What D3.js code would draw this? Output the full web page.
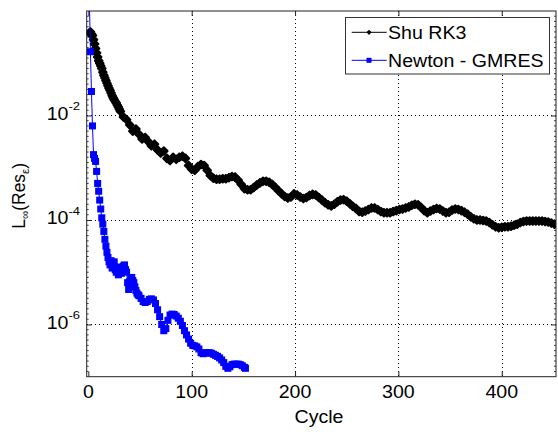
<!DOCTYPE html>
<html>
<head>
<meta charset="utf-8">
<script src="https://cdn.jsdelivr.net/npm/d3@7"></script>
<style>
  body { margin: 0; background: #fff; }
  svg { display: block; }
  text { font-family: "Liberation Sans", Arial, sans-serif; fill: #000; }
</style>
</head>
<body>
<div id="graphe"></div>
<script>
// données (résidu L-infini par cycle)
// Shu RK3 : chaque cycle de 1 à 30, puis un point tous les 3 cycles jusqu'à 451
const shuRK3 = [
  0.380, 0.398, 0.363, 0.339, 0.282, 0.234, 0.191, 0.158, 0.132, 0.112,
  0.100, 0.0891, 0.0794, 0.0676, 0.0589, 0.0525, 0.0468, 0.0417, 0.0372, 0.0331,
  0.0302, 0.0269, 0.0240, 0.0219, 0.0200, 0.0186, 0.0174, 0.0158, 0.0145, 0.0132,
  0.0120, 9.33e-3, 8.32e-3, 6.61e-3, 5.01e-3, 5.50e-3, 4.37e-3, 3.55e-3, 3.80e-3, 3.16e-3,
  2.63e-3, 2.82e-3, 2.19e-3, 1.91e-3, 2.09e-3, 1.51e-3, 1.38e-3, 1.58e-3, 1.45e-3, 1.58e-3,
  1.66e-3, 1.51e-3, 1.10e-3, 9.33e-4, 8.91e-4, 1.05e-3, 1.15e-3, 1.10e-3, 8.91e-4, 7.08e-4,
  6.31e-4, 6.03e-4, 6.03e-4, 6.17e-4, 6.17e-4, 6.46e-4, 6.76e-4, 6.61e-4, 5.75e-4, 4.79e-4,
  3.98e-4, 3.80e-4, 3.80e-4, 4.17e-4, 4.68e-4, 5.13e-4, 5.50e-4, 5.50e-4, 5.25e-4, 4.79e-4,
  4.17e-4, 3.63e-4, 3.16e-4, 2.82e-4, 2.63e-4, 2.75e-4, 3.16e-4, 3.02e-4, 2.75e-4, 2.57e-4,
  2.69e-4, 2.95e-4, 3.09e-4, 3.02e-4, 2.69e-4, 2.40e-4, 2.14e-4, 1.95e-4, 1.86e-4, 2.00e-4,
  2.24e-4, 2.40e-4, 2.45e-4, 2.29e-4, 2.04e-4, 1.82e-4, 1.66e-4, 1.45e-4, 1.41e-4, 1.48e-4,
  1.58e-4, 1.70e-4, 1.70e-4, 1.58e-4, 1.45e-4, 1.38e-4, 1.38e-4, 1.38e-4, 1.45e-4, 1.51e-4,
  1.58e-4, 1.62e-4, 1.70e-4, 1.78e-4, 1.91e-4, 2.00e-4, 1.95e-4, 1.74e-4, 1.51e-4, 1.38e-4,
  1.48e-4, 1.58e-4, 1.66e-4, 1.62e-4, 1.48e-4, 1.38e-4, 1.41e-4, 1.55e-4, 1.62e-4, 1.58e-4,
  1.51e-4, 1.41e-4, 1.29e-4, 1.15e-4, 1.05e-4, 1.00e-4, 1.00e-4, 9.77e-5, 9.55e-5, 8.91e-5,
  8.13e-5, 7.41e-5, 7.08e-5, 7.24e-5, 7.41e-5, 7.41e-5, 7.59e-5, 7.94e-5, 8.32e-5, 8.91e-5,
  9.33e-5, 9.55e-5, 9.55e-5, 9.55e-5, 9.55e-5, 9.55e-5, 9.55e-5, 9.33e-5, 9.12e-5, 8.71e-5,
  8.32e-5
];
const shuCycles = d3.range(1, 31).concat(d3.range(31, 452, 3));

// Newton - GMRES : chaque cycle jusqu'à 49, puis tous les 2 cycles jusqu'à 152
const newtonGmres = [
  1.6, 0.166, 0.0288, 6.31e-3, 1.78e-3, 1.51e-3, 1.32e-3, 8.51e-4, 5.01e-4, 3.55e-4,
  2.40e-4, 1.62e-4, 1.10e-4, 8.32e-5, 6.03e-5, 4.27e-5, 3.16e-5, 2.40e-5, 1.91e-5, 1.58e-5,
  1.38e-5, 1.66e-5, 1.20e-5, 1.51e-5, 1.58e-5, 1.12e-5, 1.00e-5, 1.26e-5, 8.91e-6, 1.05e-5,
  1.10e-5, 9.55e-6, 1.20e-5, 1.32e-5, 1.38e-5, 1.12e-5, 1.00e-5, 6.31e-6, 4.68e-6, 6.61e-6,
  7.59e-6, 7.94e-6, 6.92e-6, 6.31e-6, 5.25e-6, 4.47e-6, 3.98e-6, 3.72e-6, 3.55e-6,
  3.16e-6, 2.75e-6, 2.63e-6, 2.75e-6, 3.02e-6, 3.09e-6, 2.95e-6, 2.51e-6, 1.91e-6, 1.41e-6,
  1.00e-6, 7.59e-7, 8.32e-7, 1.20e-6, 1.51e-6, 1.58e-6, 1.55e-6, 1.45e-6, 1.32e-6, 1.15e-6,
  9.55e-7, 7.59e-7, 6.31e-7, 5.25e-7, 4.37e-7, 3.98e-7, 3.89e-7, 3.72e-7, 3.39e-7, 2.88e-7,
  2.75e-7, 2.82e-7, 2.88e-7, 2.88e-7, 2.82e-7, 2.69e-7, 2.57e-7, 2.45e-7, 2.29e-7, 2.09e-7,
  1.86e-7, 1.58e-7, 1.45e-7, 1.55e-7, 1.70e-7, 1.74e-7, 1.74e-7, 1.74e-7, 1.70e-7, 1.62e-7,
  1.51e-7, 1.45e-7
];
const newtonCycles = d3.range(1, 50).concat(d3.range(51, 152, 2), [152]);

const xTicks = [0, 100, 200, 300, 400];
const yTicks = [1e-6, 1e-4, 1e-2];
const yTickExp = ["-6", "-4", "-2"];
const seriesNames = ["Shu RK3", "Newton - GMRES"];

const largeur = 558, hauteur = 432;
const gauche = 86.7, droite = 556, haut = 11, bas = 376.7;
const etirement = 1.12; // les textes de l'image sont un peu étirés en largeur

let svg = d3.select('#graphe').append('svg')
  .attr('width', largeur)
  .attr('height', hauteur);

svg.append('rect').attr('width', largeur).attr('height', hauteur).attr('fill', '#fff');

let x = d3.scaleLinear().domain([-1.6, 452.5]).range([gauche, droite]);
let y = d3.scaleLog().domain([1e-7, 1]).range([bas, haut]);

function texte(g, px, py, ancre, taille) {
  return g.append('text')
    .attr('transform', `translate(${px},${py}) scale(${etirement},1)`)
    .attr('text-anchor', ancre)
    .attr('font-size', taille);
}

// grille pointillée
let grille = svg.append('g').attr('stroke', '#000').attr('stroke-width', 1)
  .attr('stroke-dasharray', '1,3').attr('shape-rendering', 'crispEdges');
grille.selectAll('line.gx').data(xTicks.slice(1)).enter().append('line')
  .attr('x1', d => Math.round(x(d)) + 0.5).attr('x2', d => Math.round(x(d)) + 0.5)
  .attr('y1', haut).attr('y2', bas);
grille.selectAll('line.gy').data(yTicks).enter().append('line')
  .attr('x1', gauche).attr('x2', droite)
  .attr('y1', d => Math.round(y(d)) + 0.5).attr('y2', d => Math.round(y(d)) + 0.5);

// axes (graduations vers l'intérieur)
let axeBas = d3.axisBottom(x).tickValues(xTicks).tickSizeInner(-5).tickSizeOuter(0).tickFormat('');
let axeHaut = d3.axisTop(x).tickValues(xTicks).tickSizeInner(-5).tickSizeOuter(0).tickFormat('');
let axeGauche = d3.axisLeft(y).tickValues(yTicks).tickSizeInner(-5).tickSizeOuter(0).tickFormat('');
let axeDroite = d3.axisRight(y).tickValues(yTicks).tickSizeInner(-5).tickSizeOuter(0).tickFormat('');

svg.append('g').attr('transform', `translate(0,${bas})`).call(axeBas);
svg.append('g').attr('transform', `translate(0,${haut})`).call(axeHaut);
svg.append('g').attr('transform', `translate(${gauche},0)`).call(axeGauche);
svg.append('g').attr('transform', `translate(${droite},0)`).call(axeDroite);
svg.selectAll('.domain').remove();
svg.selectAll('.tick line').attr('stroke', '#222');

// petites graduations log (tous les 0.1 décade)
let mineures = d3.range(-69, 0).filter(k => k % 20 !== 0).map(k => Math.pow(10, k / 10));
svg.append('g').selectAll('line').data(mineures).enter().append('line')
  .attr('x1', gauche).attr('x2', gauche + 2)
  .attr('y1', d => y(d)).attr('y2', d => y(d))
  .attr('stroke', '#444').attr('stroke-width', 1);
svg.append('g').selectAll('line').data(mineures).enter().append('line')
  .attr('x1', droite - 2).attr('x2', droite)
  .attr('y1', d => y(d)).attr('y2', d => y(d))
  .attr('stroke', '#444').attr('stroke-width', 1);

// étiquettes
xTicks.forEach(t => {
  texte(svg, x(t), 398.3, 'middle', 17.5).text(t);
});
yTicks.forEach((t, i) => {
  let tx = texte(svg, 80, y(t) + 4.3, 'end', 17.5);
  tx.append('tspan').text('10');
  tx.append('tspan').attr('font-size', 11.6).attr('dy', -9.3).text(yTickExp[i]);
});
texte(svg, 319, 423.3, 'middle', 17.5).text('Cycle');

let titreY = svg.append('text')
  .attr('transform', `translate(25,${(haut + bas) / 2 + 2}) rotate(-90)`)
  .attr('text-anchor', 'middle')
  .attr('font-size', 17.5);
titreY.append('tspan').text('L');
titreY.append('tspan').attr('font-size', 11.5).attr('dy', 4).text('∞');
titreY.append('tspan').attr('dy', -4).text('(Res');
titreY.append('tspan').attr('font-size', 11.5).attr('dy', 4).text('ε');
titreY.append('tspan').attr('dy', -4).text(')');

// courbes
let clip = svg.append('clipPath').attr('id', 'zone')
  .append('rect').attr('x', gauche).attr('y', haut)
  .attr('width', droite - gauche).attr('height', bas - haut);

let trace = svg.append('g').attr('clip-path', 'url(#zone)');
let ligne = d3.line().x(d => x(d[0])).y(d => y(d[1]));

let pointsShu = shuCycles.map((c, i) => [c, shuRK3[i]]);
let pointsNewton = newtonCycles.map((c, i) => [c, newtonGmres[i]]);

const losange = 'M0,-3.8L3.8,0L0,3.8L-3.8,0Z';

trace.append('path').datum(pointsShu)
  .attr('d', ligne).attr('fill', 'none').attr('stroke', '#000').attr('stroke-width', 1);
trace.selectAll('path.shu').data(pointsShu).enter().append('path')
  .attr('class', 'shu')
  .attr('d', losange)
  .attr('transform', d => `translate(${x(d[0])},${y(d[1])})`)
  .attr('fill', '#000')
  .attr('stroke', '#000').attr('stroke-width', 2).attr('stroke-linejoin', 'round');

trace.append('path').datum(pointsNewton)
  .attr('d', ligne).attr('fill', 'none').attr('stroke', '#0000ff').attr('stroke-width', 1);
trace.selectAll('rect.newton').data(pointsNewton).enter().append('rect')
  .attr('class', 'newton')
  .attr('x', d => x(d[0]) - 2.9).attr('y', d => y(d[1]) - 2.9)
  .attr('width', 5.8).attr('height', 5.8)
  .attr('fill', '#0000ff')
  .attr('stroke', '#0000ff').attr('stroke-width', 1.2);

// cadre
svg.append('rect')
  .attr('x', gauche).attr('y', haut)
  .attr('width', droite - gauche).attr('height', bas - haut)
  .attr('fill', 'none').attr('stroke', '#222').attr('stroke-width', 1);

// légende
let legende = svg.append('g');
legende.append('rect')
  .attr('x', 345.5).attr('y', 17.5).attr('width', 204).attr('height', 56.5)
  .attr('fill', '#fff').attr('stroke', '#333').attr('stroke-width', 1);
let couleurs = ['#000', '#0000ff'];
let lignesY = [32.3, 60.3];
seriesNames.forEach((nom, i) => {
  legende.append('line')
    .attr('x1', 351.7).attr('x2', 386.7).attr('y1', lignesY[i]).attr('y2', lignesY[i])
    .attr('stroke', couleurs[i]).attr('stroke-width', 1);
  if (i === 0) {
    legende.append('path').attr('d', 'M0,-2.6L2.6,0L0,2.6L-2.6,0Z')
      .attr('transform', `translate(369,${lignesY[i]})`).attr('fill', '#000');
  } else {
    legende.append('rect').attr('x', 369 - 2.5).attr('y', lignesY[i] - 2.5)
      .attr('width', 5).attr('height', 5).attr('fill', '#0000ff');
  }
  texte(legende, 388, lignesY[i] + 6.6, 'start', 17.5).text(nom);
});
</script>
</body>
</html>
